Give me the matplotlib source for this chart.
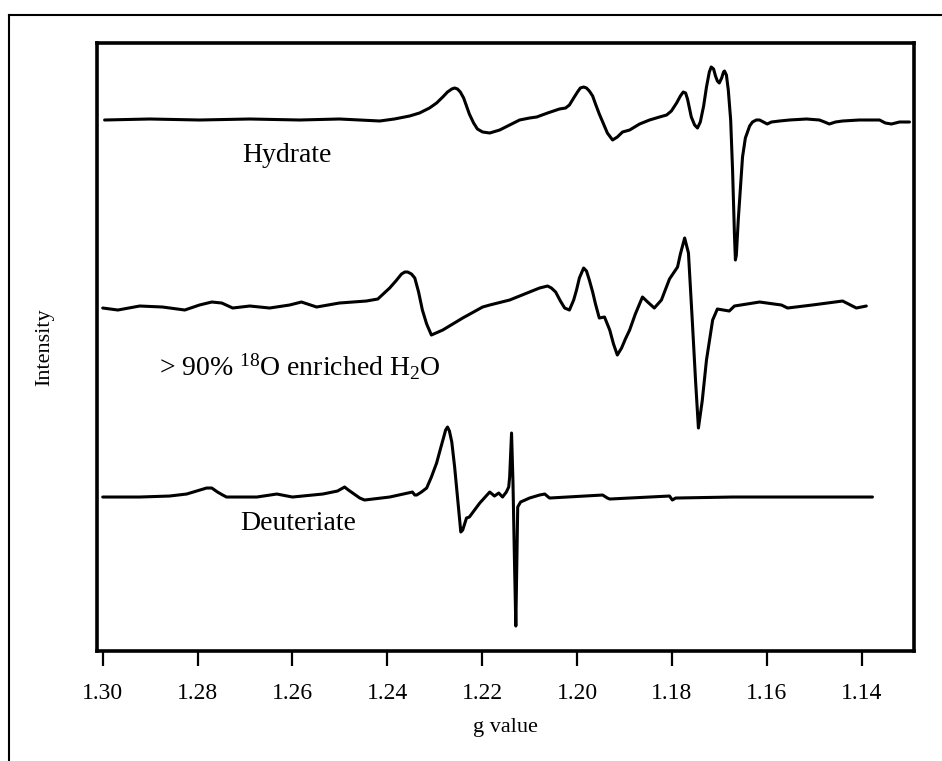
import numpy as np
import matplotlib
matplotlib.use("Agg")
import matplotlib.pyplot as plt
from matplotlib.lines import Line2D

plt.rcParams['font.family'] = ['Liberation Serif', 'DejaVu Serif']
plt.rcParams['mathtext.fontset'] = 'custom'
plt.rcParams['mathtext.rm'] = 'Liberation Serif'
plt.rcParams['mathtext.it'] = 'Liberation Serif:italic'

# g values and intensity (relative to each trace's own baseline)
hyd_g = [1.2996, 1.2901, 1.2796, 1.2690, 1.2585, 1.2501, 1.2458, 1.2416, 1.2385, 1.2353,
         1.2332, 1.2311, 1.2296, 1.2283, 1.2273, 1.2264, 1.2258, 1.2252, 1.2246, 1.2239,
         1.2233, 1.2227, 1.2218, 1.2210, 1.2199, 1.2184, 1.2163, 1.2142, 1.2121, 1.2100,
         1.2085, 1.2062, 1.2037, 1.2024, 1.2016, 1.2007, 1.1999, 1.1993, 1.1986, 1.1980,
         1.1974, 1.1967, 1.1961, 1.1953, 1.1944, 1.1936, 1.1925, 1.1915, 1.1904, 1.1889,
         1.1868, 1.1847, 1.1826, 1.1811, 1.1801, 1.1790, 1.1782, 1.1776, 1.1771, 1.1767,
         1.1763, 1.1759, 1.1752, 1.1746, 1.1740, 1.1733, 1.1727, 1.1721, 1.1717, 1.1712,
         1.1708, 1.1704, 1.1700, 1.1695, 1.1691, 1.1689, 1.1685, 1.1681, 1.1676, 1.1672,
         1.1668, 1.1666, 1.1664, 1.1660, 1.1655, 1.1651, 1.1645, 1.1636, 1.1630, 1.1622,
         1.1615, 1.1607, 1.1599, 1.1590, 1.1573, 1.1552, 1.1516, 1.1489, 1.1478, 1.1468,
         1.1455, 1.1440, 1.1405, 1.1362, 1.1350, 1.1337, 1.1320, 1.1299]
hyd_i = [0, 1, 0, 1, 0, 1, 0, -1, 1, 4,
         7, 12, 17, 23, 28, 31, 32, 31, 28, 22,
         14, 6, -3, -9, -12, -13, -10, -5, 0, 2,
         3, 7, 11, 12, 15, 22, 28, 32, 33, 32,
         29, 24, 16, 6, -4, -13, -20, -17, -12, -10,
         -4, 0, 3, 5, 9, 17, 24, 28, 27, 21,
         12, 3, -5, -8, -2, 14, 33, 48, 53, 51,
         44, 39, 37, 42, 48, 49, 45, 30, 0, -50,
         -115, -140, -135, -100, -65, -37, -18, -6, -2, 0,
         0, -2, -4, -2, -1, 0, 1, 0, -2, -4,
         -2, -1, 0, 0, -3, -4, -2, -2]

o18_g = [1.3000, 1.2968, 1.2922, 1.2874, 1.2827, 1.2796, 1.2770, 1.2749, 1.2726, 1.2690,
         1.2648, 1.2606, 1.2581, 1.2549, 1.2501, 1.2444, 1.2420, 1.2395, 1.2382, 1.2370,
         1.2363, 1.2357, 1.2349, 1.2342, 1.2334, 1.2326, 1.2317, 1.2307, 1.2283, 1.2241,
         1.2199, 1.2184, 1.2142, 1.2100, 1.2079, 1.2062, 1.2054, 1.2045, 1.2035, 1.2026,
         1.2016, 1.2007, 1.2001, 1.1995, 1.1986, 1.1980, 1.1974, 1.1967, 1.1961, 1.1953,
         1.1942, 1.1931, 1.1923, 1.1915, 1.1906, 1.1898, 1.1889, 1.1877, 1.1862, 1.1851,
         1.1837, 1.1822, 1.1805, 1.1788, 1.1782, 1.1773, 1.1765, 1.1757, 1.1750, 1.1744,
         1.1736, 1.1727, 1.1714, 1.1704, 1.1679, 1.1668, 1.1615, 1.1569, 1.1556, 1.1504,
         1.1440, 1.1411, 1.1390]
o18_i = [-2, -4, 0, -1, -4, 1, 4, 3, -2, 0,
         -2, 1, 4, -1, 3, 5, 7, 18, 25, 32,
         34, 34, 32, 28, 14, -4, -18, -29, -24, -12,
         -1, 1, 6, 14, 18, 20, 18, 14, 5, -2,
         -4, 6, 16, 28, 38, 35, 26, 14, 2, -12,
         -11, -24, -38, -49, -42, -33, -24, -8, 9, 4,
         -2, 6, 27, 39, 52, 68, 53, -14, -75, -122,
         -95, -54, -14, -3, -5, 0, 4, 1, -2, 1,
         5, -2, 0]

deu_g = [1.3000, 1.2922, 1.2859, 1.2823, 1.2802, 1.2781, 1.2770, 1.2758, 1.2747, 1.2739,
         1.2675, 1.2633, 1.2600, 1.2536, 1.2505, 1.2490, 1.2482, 1.2473, 1.2458, 1.2448,
         1.2395, 1.2347, 1.2342, 1.2338, 1.2328, 1.2317, 1.2307, 1.2296, 1.2288, 1.2281,
         1.2277, 1.2273, 1.2269, 1.2264, 1.2258, 1.2252, 1.2245, 1.2241, 1.2233, 1.2227,
         1.2205, 1.2184, 1.2174, 1.2165, 1.2157, 1.2149, 1.2144, 1.2142, 1.2138, 1.2135,
         1.2132, 1.2129, 1.2125, 1.2119, 1.2100, 1.2079, 1.2068, 1.2058, 1.1946, 1.1936,
         1.1931, 1.1805, 1.1799, 1.1792, 1.1672, 1.1377]
deu_i = [0, 0, 1, 3, 6, 9, 9, 5, 2, 0,
         0, 3, 0, 3, 6, 10, 7, 4, -1, -3,
         0, 5, 2, 2, 5, 9, 20, 34, 48, 60,
         67, 70, 66, 55, 30, 0, -35, -33, -21, -20,
         -6, 5, 1, 4, 0, 5, 10, 20, 64, 15,
         -60, -129, -10, -5, -1, 2, 3, -1, 2, -1,
         -2, 1, -3, -1, 0, 0]

offsets = [531, 345, 154]
labels = ["Hydrate", r"> 90% $^{18}$O enriched H$_2$O", "Deuteriate"]
label_pos = [(1.2612, 496), (1.2585, 284), (1.2587, 128)]
ticks = [1.30, 1.28, 1.26, 1.24, 1.22, 1.20, 1.18, 1.16, 1.14]

fig = plt.figure(figsize=(9.42, 7.61), dpi=100)
ax = fig.add_axes([0.103, 0.1445, 0.867, 0.799])

for g, i, off in zip([hyd_g, o18_g, deu_g], [hyd_i, o18_i, deu_i], offsets):
    ax.plot(g, np.array(i) + off, color='black', lw=2.2,
            solid_joinstyle='round', solid_capstyle='round')

for lab, (gx, yy) in zip(labels, label_pos):
    ax.text(gx, yy, lab, fontsize=20, ha='center', va='center')

ax.set_xlim(1.3012, 1.1290)
ax.set_ylim(0, 608)
ax.set_xticks(ticks)
ax.set_xticklabels(["%.2f" % t for t in ticks], fontsize=17)
ax.set_yticks([])
ax.tick_params(axis='x', direction='out', length=11, width=1.6, pad=12)
for s in ax.spines.values():
    s.set_linewidth(2.6)
ax.set_xlabel("g value", fontsize=16, labelpad=10)
fig.text(45 / 942, 1 - 347 / 761, "Intensity", rotation=90, fontsize=16,
         ha='center', va='center')

# outer frame of the scanned figure
fig.add_artist(Line2D([9 / 942, 1.0], [1 - 15 / 761] * 2, color='black', lw=1.5))
fig.add_artist(Line2D([9 / 942] * 2, [0, 1 - 15 / 761], color='black', lw=1.5))

fig.savefig("out.png", dpi=100)
